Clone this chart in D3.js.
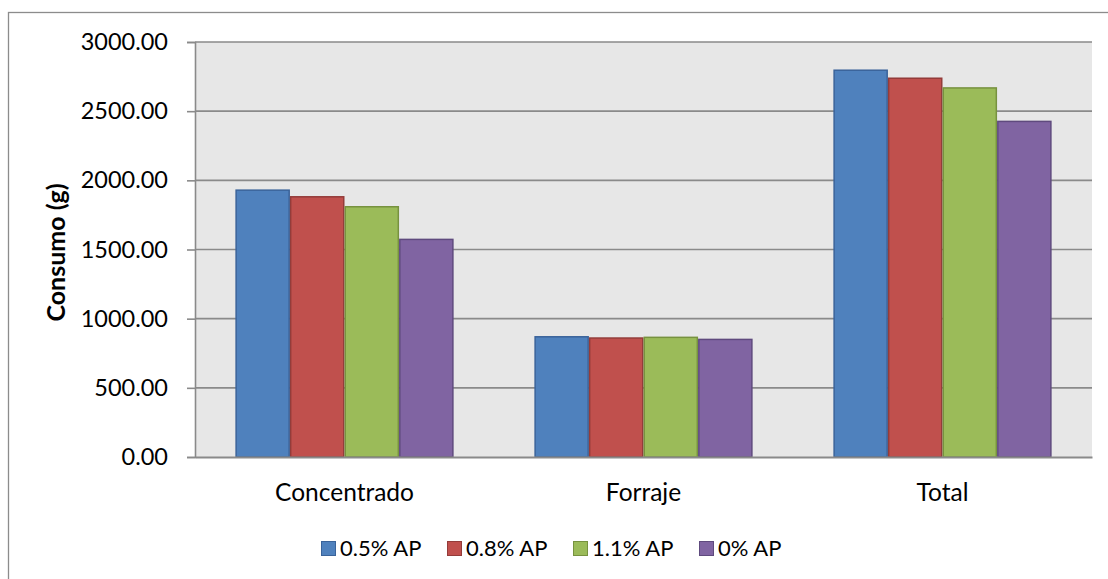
<!DOCTYPE html>
<html>
<head>
<meta charset="utf-8">
<script src="https://cdn.jsdelivr.net/npm/d3@7"></script>
<style>
  html, body { margin: 0; padding: 0; background: #ffffff; }
  svg { display: block; }
  text { font-family: Lato, "Open Sans", sans-serif; fill: #000; }
</style>
</head>
<body>
<svg id="chart" width="1108" height="579"></svg>
<script>
const categories = ["Concentrado", "Forraje", "Total"];
const seriesNames = ["0.5% AP", "0.8% AP", "1.1% AP", "0% AP"];
const s05 = [1929, 869, 2796];
const s08 = [1881, 860, 2738];
const s11 = [1809, 865, 2668];
const s00 = [1573, 850, 2426];
const yTicks = [0, 500, 1000, 1500, 2000, 2500, 3000];
const yLabel = "Consumo (g)";

const seriesValues = [s05, s08, s11, s00];
const fills = ["#4f81bd", "#c0504d", "#9bbb59", "#8064a2"];
const strokes = ["#3a639a", "#943c3a", "#77923f", "#5f4a7e"];

const svg = d3.select("#chart");
const plot = { left: 195, right: 1092, top: 42, bottom: 457 };

// outer chart border (cropped at right/bottom)
svg.append("rect").attr("x", 8.5).attr("y", 12.5).attr("width", 1120).attr("height", 600)
  .attr("fill", "#fff").attr("stroke", "#8c8c8c").attr("stroke-width", 1.3);

// plot background
svg.append("rect").attr("x", plot.left).attr("y", plot.top)
  .attr("width", plot.right - plot.left).attr("height", plot.bottom - plot.top)
  .attr("fill", "#e7e7e7");

const y = d3.scaleLinear().domain([0, 3000]).range([plot.bottom, plot.top]);
const x0 = d3.scaleBand().domain(categories).range([plot.left, plot.right])
  .paddingInner(0.27).paddingOuter(0.135);
const x1 = d3.scaleBand().domain(d3.range(seriesNames.length)).range([0, x0.bandwidth()]).padding(0);

// gridlines
svg.append("g").selectAll("line").data(yTicks.filter(d => d > 0)).join("line")
  .attr("x1", plot.left).attr("x2", plot.right)
  .attr("y1", d => y(d)).attr("y2", d => y(d))
  .attr("stroke", "#8a8a8a").attr("stroke-width", 1.6);

// y axis
const yAxis = d3.axisLeft(y).tickValues(yTicks).tickFormat(d3.format(".2f")).tickSize(8).tickPadding(19);
const gy = svg.append("g").attr("transform", `translate(${plot.left},0)`).call(yAxis);
gy.select(".domain").attr("stroke", "#8a8a8a").attr("stroke-width", 1.6);
gy.selectAll(".tick line").attr("stroke", "#8a8a8a").attr("stroke-width", 1.6);
gy.selectAll(".tick text").attr("font-family", "Lato, sans-serif").attr("font-size", 23.5).attr("fill", "#000");

// bars
const groups = svg.append("g").selectAll("g").data(categories).join("g")
  .attr("transform", d => `translate(${x0(d)},0)`);
groups.selectAll("rect").data((c, ci) => seriesValues.map((s, si) => ({ si, v: s[ci] }))).join("rect")
  .attr("x", d => x1(d.si) + 0.75)
  .attr("width", x1.bandwidth() - 1.5)
  .attr("y", d => y(d.v))
  .attr("height", d => y(0) - y(d.v))
  .attr("fill", d => fills[d.si])
  .attr("stroke", d => strokes[d.si])
  .attr("stroke-width", 1.5);

// x axis
const xAxis = d3.axisBottom(x0).tickSize(0).tickPadding(27);
const gx = svg.append("g").attr("transform", `translate(0,${plot.bottom})`).call(xAxis);
gx.select(".domain").attr("stroke", "#8a8a8a").attr("stroke-width", 1.8);
gx.selectAll(".tick text").attr("font-family", "Lato, sans-serif").attr("font-size", 24.5).attr("fill", "#000");

// y label
svg.append("text")
  .attr("transform", `translate(65,${(plot.top + plot.bottom) / 2 + 3}) rotate(-90)`)
  .attr("text-anchor", "middle")
  .attr("font-family", "Lato, sans-serif")
  .attr("font-size", 25).attr("font-weight", "bold")
  .text(yLabel);

// legend
const legend = svg.append("g").selectAll("g").data(seriesNames).join("g")
  .attr("transform", (d, i) => `translate(${321 + i * 126},541)`);
legend.append("rect").attr("x", 0.5).attr("y", 0.5).attr("width", 14).attr("height", 14)
  .attr("fill", (d, i) => fills[i]).attr("stroke", (d, i) => strokes[i]).attr("stroke-width", 1);
legend.append("text").attr("x", 19).attr("y", 15).attr("font-size", 22).text(d => d);
</script>
</body>
</html>
